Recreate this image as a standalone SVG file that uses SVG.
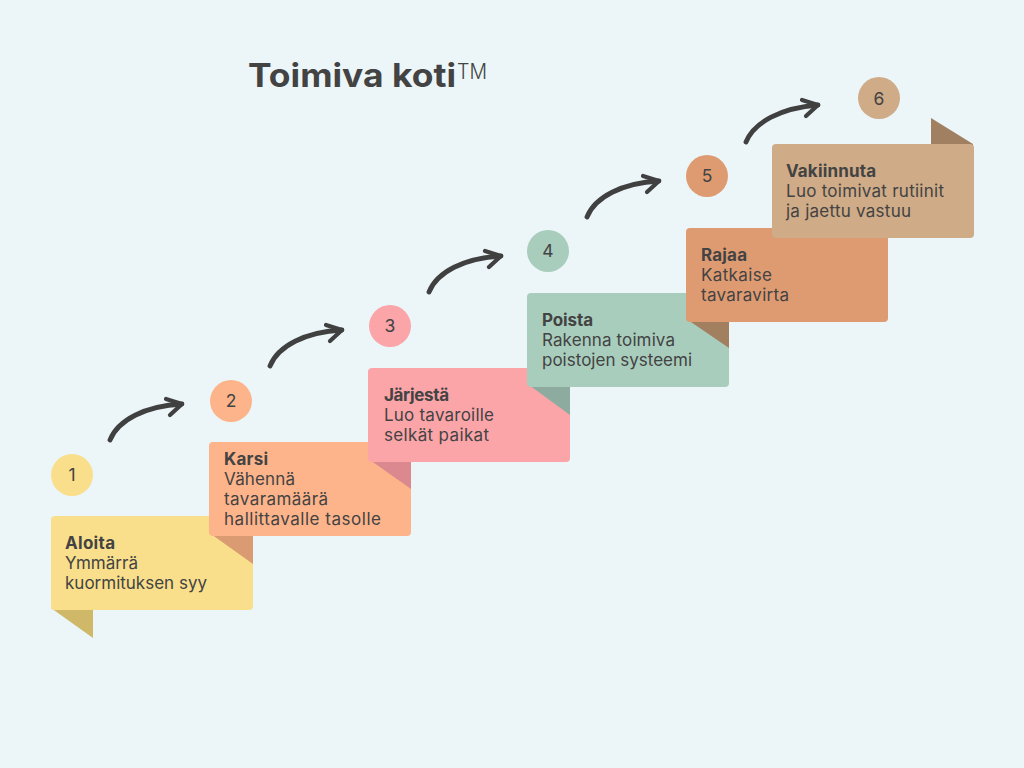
<svg xmlns="http://www.w3.org/2000/svg" width="1024" height="768" viewBox="0 0 1024 768">
<defs>
<style>
text{font-family:Inter,"Liberation Sans",sans-serif;fill:#434343;font-size:17px}
.b{font-weight:700}
.n{font-size:17.5px;text-anchor:middle}
.title{font-size:33px;font-weight:700}
.tm{font-size:21px;font-weight:300}
.a{fill:none;stroke:#404040;stroke-width:4.8;stroke-linecap:round;marker-end:url(#h)}
</style>
<marker id="h" markerUnits="userSpaceOnUse" markerWidth="24" markerHeight="24" refX="20" refY="8" orient="0" overflow="visible">
<path d="M4 3 L20 8 L8 19" fill="none" stroke="#404040" stroke-width="4.2" stroke-linecap="round" stroke-linejoin="round"/>
</marker>
</defs>
<rect width="1024" height="768" fill="#ecf6f8"/>
<text class="title" x="248" y="87" textLength="208" lengthAdjust="spacingAndGlyphs">Toimiva koti</text>
<text class="tm" x="457" y="79" textLength="30" lengthAdjust="spacingAndGlyphs">TM</text>
<g id="connectors">
<path class="a" d="M110 440 C118 420 145 406 182 404"/>
<path class="a" d="M270 366 C278 346 305 332 342 330"/>
<path class="a" d="M429 292 C437 272 464 258 501 256"/>
<path class="a" d="M587 217 C595 197 622 183 659 181"/>
<path class="a" d="M746 142 C754 122 781 108 818 105"/>
</g>
<g id="node1">
<circle cx="72" cy="475" r="21" fill="#f9df8b"/>
<text class="n" x="72" y="481">1</text>
<path d="M51 608 L93 608 L93 638 Z" fill="#cfb868"/>
<rect x="51" y="516" width="202" height="94" rx="4" fill="#f9df8b"/>
<text class="b" x="65" y="549" textLength="50">Aloita</text>
<text x="65" y="569" textLength="73">Ymmärrä</text>
<text x="65" y="589" textLength="142">kuormituksen syy</text>
</g>
<g id="node2">
<circle cx="231" cy="401" r="21" fill="#fdb48a"/>
<text class="n" x="231" y="407">2</text>
<path d="M211 534 L253 534 L253 564 Z" fill="#da9a72"/>
<rect x="209" y="442" width="202" height="94" rx="4" fill="#fdb48a"/>
<text class="b" x="224" y="465" textLength="44">Karsi</text>
<text x="224" y="485" textLength="71">Vähennä</text>
<text x="224" y="505" textLength="104">tavaramäärä</text>
<text x="224" y="525" textLength="157">hallittavalle tasolle</text>
</g>
<g id="node3">
<circle cx="390" cy="326" r="21" fill="#fba5a9"/>
<text class="n" x="390" y="332">3</text>
<path d="M370 460 L411 460 L411 489 Z" fill="#db888e"/>
<rect x="368" y="368" width="202" height="94" rx="4" fill="#fba5a9"/>
<text class="b" x="384" y="401" textLength="65">Järjestä</text>
<text x="384" y="421" textLength="110">Luo tavaroille</text>
<text x="384" y="441" textLength="105">selkät paikat</text>
</g>
<g id="node4">
<circle cx="548" cy="251" r="21" fill="#a9cdbd"/>
<text class="n" x="548" y="257">4</text>
<path d="M529 385 L570 385 L570 415 Z" fill="#8dab9e"/>
<rect x="527" y="293" width="202" height="94" rx="4" fill="#a9cdbd"/>
<text class="b" x="542" y="326" textLength="51">Poista</text>
<text x="542" y="346" textLength="133">Rakenna toimiva</text>
<text x="542" y="366" textLength="150">poistojen systeemi</text>
</g>
<g id="node5">
<circle cx="707" cy="176" r="21" fill="#de9b72"/>
<text class="n" x="707" y="182">5</text>
<path d="M688 320 L729 320 L729 348 Z" fill="#a17f5f"/>
<rect x="686" y="228" width="202" height="94" rx="4" fill="#de9b72"/>
<text class="b" x="701" y="261" textLength="46">Rajaa</text>
<text x="701" y="281" textLength="71">Katkaise</text>
<text x="701" y="301" textLength="88">tavaravirta</text>
</g>
<g id="node6">
<circle cx="879" cy="98" r="21" fill="#cfab87"/>
<text class="n" x="879" y="105">6</text>
<path d="M931 118 L931 146 L973 146 L973 144 Z" fill="#a08060"/>
<rect x="772" y="144" width="202" height="94" rx="4" fill="#cfab87"/>
<text class="b" x="786" y="177" textLength="90">Vakiinnuta</text>
<text x="786" y="197" textLength="158">Luo toimivat rutiinit</text>
<text x="786" y="217" textLength="125">ja jaettu vastuu</text>
</g>
</svg>
